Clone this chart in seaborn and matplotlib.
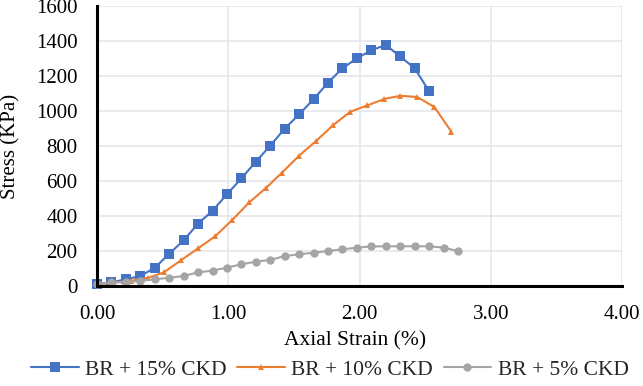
import pandas as pd
import numpy as np
import matplotlib
matplotlib.use('Agg')
import matplotlib.pyplot as plt
import seaborn as sns

sns.set_theme(style='whitegrid')
plt.rcParams['font.family'] = ['Liberation Serif', 'DejaVu Serif']

# values
strain_15 = [0.00, 0.11, 0.22, 0.33, 0.44, 0.55, 0.66, 0.77, 0.88, 0.99, 1.10, 1.21,
             1.32, 1.43, 1.54, 1.65, 1.76, 1.87, 1.98, 2.09, 2.20, 2.31, 2.42, 2.53]
stress_15 = [10, 21, 38, 57, 104, 184, 261, 356, 430, 524, 615, 710,
             802, 899, 981, 1067, 1162, 1244, 1301, 1347, 1377, 1312, 1244, 1114]

strain_10 = [0.00, 0.13, 0.26, 0.39, 0.51, 0.64, 0.77, 0.90, 1.03, 1.16, 1.29,
             1.41, 1.54, 1.67, 1.80, 1.93, 2.06, 2.19, 2.31, 2.44, 2.57, 2.70]
stress_10 = [10, 20, 30, 47, 78, 147, 215, 284, 377, 478, 562,
             648, 745, 829, 920, 996, 1032, 1069, 1087, 1080, 1023, 882]

strain_5 = [0.00, 0.11, 0.22, 0.33, 0.44, 0.55, 0.66, 0.77, 0.88, 0.99, 1.10, 1.21, 1.32,
            1.43, 1.54, 1.65, 1.76, 1.87, 1.98, 2.09, 2.20, 2.31, 2.42, 2.53, 2.64, 2.75]
stress_5 = [11, 21, 23, 29, 38, 47, 57, 78, 88, 105, 124, 139, 149,
            171, 181, 190, 200, 210, 219, 226, 227, 227, 227, 227, 219, 200]

series = [
    ('BR + 15% CKD', strain_15, stress_15, '#4472C4', 's', 6.5),
    ('BR + 10% CKD', strain_10, stress_10, '#ED7D31', '^', 5.0),
    ('BR + 5% CKD', strain_5, stress_5, '#A5A5A5', 'o', 6.0),
]

fig = plt.figure(figsize=(6.43, 3.86), dpi=100)
ax = fig.add_axes([97/643, 1-286/386, 525/643, 280/386])

for name, xs, ys, col, mk, ms in series:
    df = pd.DataFrame({'strain': xs, 'stress': ys})
    sns.lineplot(data=df, x='strain', y='stress', ax=ax, color=col, marker=mk,
                 markersize=ms, markeredgewidth=0, linewidth=1.5, label=name,
                 clip_on=False, zorder=3)

ax.set_xlim(0, 4)
ax.set_ylim(0, 1600)
ax.set_xticks(np.arange(0, 4.01, 1.0))
ax.set_xticklabels([f'{v:.2f}' for v in np.arange(0, 4.01, 1.0)])
ax.set_yticks(np.arange(0, 1601, 200))

ax.grid(True, color='#e1e4ea', linewidth=1.1)
ax.set_facecolor('white')
for s in ['top', 'right']:
    ax.spines[s].set_visible(False)
for s in ['left', 'bottom']:
    ax.spines[s].set_color('black')
    ax.spines[s].set_linewidth(2.2)
    ax.spines[s].set_zorder(4)

ax.tick_params(axis='both', length=0, labelsize=15, colors='black')
ax.tick_params(axis='x', pad=14)
ax.tick_params(axis='y', pad=14)

ax.set_xlabel('Axial Strain (%)', fontsize=15.5, color='black')
ax.set_ylabel('Stress (KPa)', fontsize=15, color='black')
ax.xaxis.set_label_coords(0.491, -0.16)
ax.yaxis.set_label_coords(-0.145, 0.5)

handles, labels = ax.get_legend_handles_labels()
ax.get_legend().remove()
fig.legend(handles, labels, loc='lower center', bbox_to_anchor=(0.513, -0.012),
           ncol=3, frameon=False, fontsize=15.5, handlelength=2.2,
           handletextpad=0.3, columnspacing=0.5, borderpad=0.0)

fig.savefig('out.png', dpi=100)
